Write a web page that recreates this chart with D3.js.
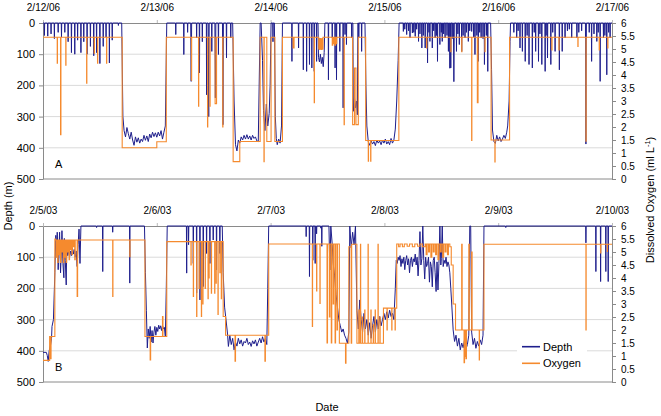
<!DOCTYPE html>
<html><head><meta charset="utf-8">
<script src="https://cdn.jsdelivr.net/npm/d3@7"></script>
<style>body{margin:0;background:#fff}svg{display:block}text{font-family:"Liberation Sans",Arial,sans-serif}</style>
</head><body><svg id="c" width="661" height="416"></svg>
<script>
const datesA = ["2/12/06","2/13/06","2/14/06","2/15/06","2/16/06","2/17/06"];
const datesB = ["2/5/03","2/6/03","2/7/03","2/8/03","2/9/03","2/10/03"];
const hourTicks = [0,24,48,72,96,120];
const depthTicks = [0,100,200,300,400,500];
const oxygenTicks = [0,0.5,1,1.5,2,2.5,3,3.5,4,4.5,5,5.5,6];

// [hours since first date, depth m]
const depthA = [
[0,0],[0.25,0],[0.3,40],[0.35,0],[0.95,0],[1.0,42],[1.05,0],[1.65,0],[1.7,35],[1.75,0],[2.35,0],[2.4,50],[2.45,0],
[3.15,0],[3.2,30],[3.25,0],[3.85,0],[3.9,45],[3.95,0],[4.55,0],[4.6,30],[4.65,0],[5.25,0],[5.3,60],[5.35,0],
[5.95,0],[6.0,95],[6.05,0],[6.65,0],[6.7,100],[6.75,0],[7.25,0],[7.3,55],[7.35,0],[7.95,0],[8.0,95],[8.05,0],
[8.55,0],[8.6,60],[8.65,0],[9.25,0],[9.3,100],[9.35,0],[9.95,0],[10.0,75],[10.05,0],[10.65,0],[10.7,105],[10.75,0],
[11.25,0],[11.3,95],[11.35,0],[11.95,0],[12.0,130],[12.05,0],[12.65,0],[12.7,75],[12.75,0],[13.25,0],[13.3,45],[13.35,0],
[13.95,0],[14.0,128],[14.05,0],[14.55,0],[14.6,55],[14.65,0],[15.85,0],[15.9,8],[15.95,0],
[16.6,0],[16.85,300],[17.1,345],[17.4,365],[17.7,335],[18.0,355],[18.3,372],[18.6,350],[18.9,375],[19.2,392],[19.5,365],[19.8,382],[20.1,368],[20.4,385],[20.7,372],[21.0,380],[21.3,360],[21.6,376],[21.9,362],[22.2,380],[22.5,356],[22.8,368],[23.1,350],[23.4,364],[23.7,352],[24.0,366],[24.3,350],[24.6,362],[24.9,345],[25.2,372],[25.5,350],[25.8,330],[26.1,0],
[27.95,0],[28.0,37],[28.05,0],[29.65,0],[29.7,101],[29.75,0],[30.45,0],[30.5,30],[30.55,0],[31.15,0],[31.25,187],[31.35,0],
[32.35,0],[32.4,48],[32.45,0],[32.95,0],[33.0,160],[33.05,0],[33.55,0],[33.6,60],[33.65,0],[34.45,0],[34.5,230],[34.55,0],
[34.85,0],[34.95,300],[35.05,0],[35.55,0],[35.6,91],[35.65,0],[36.25,0],[36.35,240],[36.45,0],[36.95,0],[37.0,101],[37.05,0],
[37.85,0],[37.95,326],[38.05,0],[38.65,0],[38.7,112],[38.75,0],[39.55,0],[39.6,48],[39.65,0],
[40.0,0],[40.3,250],[40.6,390],[40.9,410],[41.2,375],[41.5,385],[41.8,365],[42.1,375],[42.4,360],[42.7,372],[43.0,358],[43.3,372],[43.6,362],[43.9,375],[44.2,360],[44.5,370],[44.8,365],[45.1,378],[45.4,380],[45.8,0],
[46.0,0],[46.3,120],[46.5,280],[46.8,345],[47.1,260],[47.4,330],[47.7,290],[47.9,200],[48.1,0],[48.45,0],[48.5,60],[48.55,0],
[48.8,0],[49.0,300],[49.2,370],[49.4,390],[49.7,372],[50.0,385],[50.3,330],[50.5,0],
[52.45,0],[52.5,123],[52.55,0],[53.85,0],[53.9,80],[53.95,0],[54.85,0],[54.9,150],[54.95,0],[55.55,0],[55.6,155],[55.65,0],
[56.15,0],[56.2,133],[56.25,0],[56.65,0],[56.7,144],[56.75,0],[57.15,0],[57.2,155],[57.25,0],[57.65,0],[57.7,123],[57.75,0],
[58.0,0],[58.1,110],[58.3,125],[58.5,100],[58.7,130],[58.9,110],[59.1,140],[59.3,95],[59.45,0],
[60.15,0],[60.2,182],[60.25,0],[60.95,0],[61.0,48],[61.05,0],[61.55,0],[61.6,144],[61.65,0],[61.85,0],[61.9,182],[61.95,0],
[62.55,0],[62.6,91],[62.65,0],[63.25,0],[63.3,272],[63.35,0],[63.65,0],[63.7,37],[63.75,0],[63.95,0],[64.0,69],[64.05,0],
[65.05,0],[65.1,48],[65.15,0],[65.35,0],[65.45,283],[65.7,240],[65.9,272],[66.1,250],[66.3,294],[66.4,0],
[66.55,0],[66.6,48],[66.65,0],[67.15,0],[67.2,91],[67.25,0],
[67.9,0],[68.1,200],[68.3,330],[68.6,380],[68.9,392],[69.2,378],[69.5,388],[69.8,380],[70.1,393],[70.4,375],[70.7,385],[71.0,378],[71.3,390],[71.6,375],[71.9,385],[72.2,372],[72.5,388],[72.8,380],[73.1,390],[73.4,370],[73.7,385],[74.0,375],[74.3,340],[74.6,250],[74.9,120],[75.1,0],
[75.95,0],[76.0,27],[76.05,0],[76.25,0],[76.3,20],[76.35,0],[76.65,0],[76.7,37],[76.75,0],[77.05,0],[77.1,25],[77.15,0],
[77.35,0],[77.4,48],[77.45,0],[77.85,0],[77.9,32],[77.95,0],[78.15,0],[78.2,30],[78.25,0],[78.45,0],[78.5,43],[78.55,0],
[78.75,0],[78.8,20],[78.85,0],[79.15,0],[79.2,59],[79.25,0],[79.45,0],[79.5,35],[79.55,0],[79.85,0],[79.9,80],[79.95,0],
[80.15,0],[80.2,40],[80.25,0],[80.55,0],[80.6,80],[80.65,0],[81.05,0],[81.1,128],[81.15,0],[81.35,0],[81.4,30],[81.45,0],
[81.55,0],[81.6,59],[81.65,0],[82.05,0],[82.1,80],[82.15,0],[82.35,0],[82.4,25],[82.45,0],[82.65,0],[82.7,48],[82.75,0],
[82.95,0],[83.0,40],[83.05,0],[83.15,0],[83.2,123],[83.25,0],[83.65,0],[83.7,69],[83.75,0],[83.95,0],[84.0,30],[84.05,0],
[84.15,0],[84.2,59],[84.25,0],[84.45,0],[84.5,35],[84.55,0],[84.75,0],[84.8,48],[84.85,0],[85.15,0],[85.2,40],[85.25,0],
[85.45,0],[85.5,91],[85.55,0],[85.75,0],[85.8,145],[85.85,0],[85.95,0],[86.0,144],[86.05,0],[86.25,0],[86.3,50],[86.35,0],
[86.55,0],[86.65,188],[86.75,0],[87.15,0],[87.2,91],[87.25,0],[87.45,0],[87.5,35],[87.55,0],[87.75,0],[87.8,69],[87.85,0],
[88.25,0],[88.3,91],[88.35,0],[88.55,0],[88.6,40],[88.65,0],[88.95,0],[89.0,48],[89.05,0],[89.25,0],[89.3,30],[89.35,0],
[89.65,0],[89.7,59],[89.75,0],[89.95,0],[90.0,25],[90.05,0],[90.35,0],[90.4,27],[90.45,0],[90.75,0],[90.8,45],[90.85,0],
[91.05,0],[91.1,101],[91.15,0],[91.45,0],[91.5,40],[91.55,0],[91.75,0],[91.8,123],[91.85,0],[92.05,0],[92.1,30],[92.15,0],
[92.35,0],[92.4,48],[92.45,0],[92.75,0],[92.8,50],[92.85,0],[93.05,0],[93.1,133],[93.15,0],[93.45,0],[93.5,40],[93.55,0],
[93.75,0],[93.8,155],[93.85,0],
[94.4,0],[94.6,150],[94.8,343],[95.1,380],[95.4,386],[95.7,360],[96.0,378],[96.3,365],[96.6,380],[96.9,372],[97.2,360],[97.5,370],[97.8,350],[98.0,330],[98.3,250],[98.5,60],[98.6,0],
[99.25,0],[99.3,30],[99.35,0],[99.85,0],[99.9,48],[99.95,0],[100.15,0],[100.2,25],[100.25,0],[100.55,0],[100.6,80],[100.65,0],
[101.05,0],[101.1,91],[101.15,0],[101.65,0],[101.7,123],[101.75,0],[102.05,0],[102.1,40],[102.15,0],[102.45,0],[102.5,133],[102.55,0],
[103.15,0],[103.2,144],[103.25,0],[103.55,0],[103.6,30],[103.65,0],[103.85,0],[103.9,91],[103.95,0],[104.45,0],[104.5,123],[104.55,0],
[104.75,0],[104.8,35],[104.85,0],[105.15,0],[105.2,133],[105.25,0],[105.85,0],[105.9,155],[105.95,0],[106.05,0],[106.1,40],[106.15,0],
[106.35,0],[106.4,112],[106.45,0],[107.05,0],[107.1,133],[107.15,0],[107.45,0],[107.5,30],[107.55,0],[107.95,0],[108.0,91],[108.05,0],
[108.85,0],[108.9,150],[108.95,0],[109.45,0],[109.5,91],[109.55,0],[110.05,0],[110.1,48],[110.15,0],[110.55,0],[110.6,25],[110.65,0],
[110.95,0],[111.0,20],[111.05,0],[111.45,0],[111.5,48],[111.55,0],[112.55,0],[112.6,48],[112.65,0],[112.95,0],[113.0,30],[113.05,0],
[113.55,0],[113.6,25],[113.65,0],[114.4,0],[114.5,388],[114.6,0],[115.15,0],[115.2,30],[115.25,0],[115.65,0],[115.7,123],[115.75,0],
[116.15,0],[116.2,35],[116.25,0],[116.75,0],[116.8,59],[116.85,0],[117.05,0],[117.1,30],[117.15,0],[117.45,0],[117.5,187],[117.55,0],
[118.15,0],[118.2,48],[118.25,0],[118.45,0],[118.5,40],[118.55,0],[118.85,0],[118.9,166],[118.95,0],[119.25,0],[119.3,30],[119.35,0],
[119.55,0],[119.6,48],[119.65,0],[120,0]
];

// [hours, dissolved oxygen ml/L] (logged as steps)
const oxygenA = [
[0,5.45],[3.0,4.45],[3.05,5.45],[3.7,1.7],[3.78,5.45],[4.8,4.38],[4.85,5.45],[9.2,3.68],[9.25,5.45],[10.8,4.84],[10.85,5.45],[11.5,4.45],[11.55,5.45],[13.4,4.45],[13.45,5.45],
[16.7,1.2],[24.0,1.43],[26.0,5.45],
[31.3,3.8],[31.35,5.45],[32.8,2.8],[32.85,5.45],[34.7,2.0],[34.75,5.45],[35.2,2.8],[35.25,5.45],[36.3,2.9],[36.6,5.45],[37.9,2.0],[37.95,5.45],
[40.1,0.67],[41.5,1.44],[45.8,5.45],
[46.6,0.67],[46.65,5.45],[47.2,1.44],[48.1,5.45],[48.9,1.44],[50.5,5.45],
[52.75,5.04],[52.95,5.45],[57.2,2.93],[57.25,5.45],
[58.15,5.0],[58.25,5.4],[58.35,4.98],[58.45,5.4],[58.55,5.0],[58.65,5.38],[58.75,4.98],[58.85,5.4],[58.95,5.0],[59.05,5.45],
[61.0,5.15],[61.1,5.45],[61.25,5.2],[61.4,5.45],[61.55,5.15],[61.7,5.45],[61.85,5.2],[61.95,5.45],
[63.5,2.09],[63.55,5.45],[65.3,2.09],[65.7,4.27],[66.0,2.09],[66.5,5.45],
[68.05,1.48],[68.6,0.68],[68.65,1.48],[69.1,0.68],[69.15,1.48],[75.05,5.45],
[80.9,5.04],[80.95,5.45],[86.0,4.9],[86.05,5.45],[88.3,4.9],[88.35,5.45],[90.4,1.48],[90.45,5.45],[91.6,2.93],[91.75,5.45],[93.2,4.9],[93.25,5.45],
[94.5,1.5],[95.3,0.66],[95.35,1.5],[98.4,5.45],
[107.3,4.96],[107.35,5.45],[108.8,4.96],[108.85,5.45],[112.8,5.1],[112.85,5.45],[114.5,1.45],[114.55,5.45],[117.3,4.96],[117.35,5.45],[119.1,5.04],[119.15,5.45],[120,5.45]
];

const depthB = [
[0,405],[0.7,405],[0.9,415],[1.1,434],[1.3,400],[1.6,381],[1.8,360],[1.9,322],[2.2,300],[2.5,150],[2.7,30],
[2.9,100],[3.0,20],[3.2,140],[3.4,60],[3.5,20],[3.7,150],[3.9,70],[4.0,15],[4.2,120],[4.4,166],[4.5,40],[4.7,110],[4.9,189],[5.0,60],[5.2,95],[5.4,75],[5.6,100],[5.8,80],[6.0,95],[6.2,70],[6.4,90],[6.6,75],[6.8,100],[7.0,80],[7.2,130],[7.4,60],[7.6,10],[7.8,120],[8.0,0],
[11.25,0],[11.3,5],[11.35,0],[12.55,0],[12.6,146],[12.65,0],[14.65,0],[14.7,20],[14.75,0],[18.25,0],[18.3,183],[18.35,0],
[21.4,0],[21.6,150],[21.8,270],[22.0,391],[22.2,330],[22.4,360],[22.6,322],[22.8,372],[23.0,335],[23.2,375],[23.4,340],[23.6,322],[23.8,350],[24.0,325],[24.2,338],[24.4,318],[24.6,330],[24.8,320],[25.0,335],[25.2,318],[25.4,330],[25.6,325],[25.8,354],[26.0,200],[26.2,0],
[30.25,0],[30.3,151],[30.35,0],[30.65,0],[30.7,60],[30.75,0],[31.65,0],[31.7,120],[31.75,0],[32.35,0],[32.4,215],[32.45,0],
[33.05,0],[33.1,237],[33.15,0],[33.75,0],[33.8,194],[33.85,0],[34.45,0],[34.5,88],[34.55,0],[35.15,0],[35.2,120],[35.25,0],
[35.85,0],[35.9,45],[35.95,0],[36.55,0],[36.6,141],[36.65,0],[37.25,0],[37.3,88],[37.35,0],
[37.8,0],[38.0,150],[38.3,260],[38.6,301],[38.9,343],[39.1,386],[39.4,350],[39.7,380],[40.0,360],[40.3,397],[40.6,372],[40.9,385],[41.2,360],[41.5,378],[41.8,365],[42.1,385],[42.4,370],[42.7,375],[43.0,360],[43.3,380],[43.6,372],[43.9,386],[44.2,368],[44.5,378],[44.8,365],[45.1,385],[45.4,372],[45.7,360],[46.0,375],[46.3,355],[46.6,372],[46.9,360],[47.2,380],[47.4,200],[47.6,0],
[55.45,0],[55.5,34],[55.55,0],[56.15,0],[56.2,162],[56.25,0],[56.85,0],[56.9,110],[56.95,0],[57.35,0],[57.4,120],[57.45,0],
[57.65,0],[57.7,25],[57.75,0],[58.55,0],[58.6,7],[58.65,0],[58.75,0],[58.8,65],[58.85,0],
[60.3,0],[60.5,141],[60.7,0],[61.0,60],[61.2,120],[61.5,160],[61.8,220],[62.1,260],[62.4,301],[62.7,320],[63.0,340],[63.3,330],[63.6,350],[63.9,360],[64.2,376],[64.5,340],[64.7,0],[65.0,70],[65.3,20],[65.6,60],[65.9,0],
[66.2,270],[66.5,330],[66.8,237],[67.1,300],[67.4,340],[67.7,280],[68.0,330],[68.3,300],[68.6,350],[68.9,310],[69.2,360],[69.5,320],[69.8,290],[70.1,340],[70.4,300],[70.7,330],[71.0,290],[71.3,320],[71.6,300],[71.9,280],[72.2,300],[72.5,275],[72.8,295],[73.1,270],[73.4,290],[73.7,280],[74.0,300],[74.3,200],[74.5,110],
[74.7,120],[74.9,100],[75.1,110],[75.3,95],[75.5,130],[75.7,105],[75.9,120],[76.1,100],[76.3,140],[76.5,110],[76.7,95],[76.9,125],[77.1,105],[77.3,150],[77.5,110],[77.7,100],[77.9,130],[78.1,105],[78.3,115],[78.5,90],[78.7,125],[78.9,100],[79.1,160],[79.3,110],[79.5,18],[79.7,125],[79.9,105],[80.1,0],[80.3,110],[80.5,170],[80.7,100],[80.9,130],[81.1,120],[81.3,100],[81.5,180],[81.7,115],[81.9,130],[82.1,195],[82.3,110],[82.5,100],[82.7,150],[82.9,210],[83.1,115],[83.3,205],[83.5,120],[83.7,0],[83.9,125],[84.0,105],[84.2,0],[84.4,130],[84.6,110],[84.8,120],[85.0,100],[85.2,130],[85.4,115],[85.6,125],[85.8,150],
[86.0,200],[86.2,250],[86.5,333],[86.8,370],[87.1,350],[87.4,385],[87.7,360],[88.0,397],[88.3,375],[88.6,390],[88.9,365],[89.2,395],[89.5,380],[89.8,350],[90.0,0],[90.2,0],[90.4,340],[90.7,380],[91.0,360],[91.3,392],[91.6,370],[91.9,385],[92.2,365],[92.5,380],[92.8,350],[93.0,0],
[97.55,0],[97.6,5],[97.65,0],[114.45,0],[114.5,54],[114.55,0],[116.55,0],[116.6,146],[116.65,0],[117.55,0],[117.6,178],[117.65,0],
[118.65,0],[118.7,146],[118.75,0],[119.15,0],[119.2,178],[119.25,0],[120,0]
];

const oxygenB = [
[0,0.83],[1.4,1.75],[1.6,0.9],[1.7,1.75],[2.5,5.5],
[2.6,5.46],[2.8,4.8],[2.9,5.46],[3.1,4.6],[3.2,5.46],[3.4,4.9],[3.5,5.46],[3.7,4.6],[3.8,5.46],[4.0,5.0],[4.1,5.46],[4.3,4.6],[4.4,5.46],[4.6,4.8],[4.7,5.46],[4.9,4.6],[5.0,5.46],[5.2,5.0],[5.3,5.46],[5.5,4.7],[5.6,5.46],[5.8,5.1],[5.9,5.46],[6.1,4.9],[6.2,5.46],[6.4,5.2],[6.5,5.46],[6.7,4.7],[6.8,5.46],
[7.2,3.29],[7.3,5.46],[14.7,3.29],[14.75,5.46],[18.3,4.82],[18.35,5.46],
[21.5,1.75],[22.6,0.85],[22.7,1.75],[25.2,2.52],[25.3,1.75],[26.1,5.4],
[31.2,4.5],[31.25,5.4],[31.7,3.29],[31.75,5.4],[32.4,2.52],[32.45,5.4],[32.9,3.6],[32.95,5.4],[33.4,2.52],[33.45,5.4],[33.7,3.0],[33.75,5.4],[34.2,3.6],[34.25,5.4],[34.8,3.2],[34.85,5.4],[35.0,4.0],[35.05,5.4],[35.5,3.42],[35.55,5.4],[36.2,3.42],[36.25,5.4],[36.5,3.8],[36.55,5.4],[36.9,2.6],[36.95,5.4],[37.3,4.2],[37.35,5.4],[37.6,3.2],[37.65,5.4],
[38.0,2.52],[38.5,1.8],[40.5,0.8],[40.6,1.8],[46.8,0.8],[46.9,1.8],[47.6,5.31],
[56.8,2.14],[56.85,5.31],[57.7,3.5],[57.75,5.31],[58.4,3.02],[58.45,5.31],
[59.9,1.5],[60.0,5.31],[60.4,2.5],[60.5,5.31],[60.8,1.5],[60.9,5.31],[61.2,3.0],[61.3,5.31],[61.6,1.5],[61.7,5.31],[62.0,2.0],[62.1,5.31],[62.5,1.49],[63.8,0.72],[63.9,1.49],[64.5,5.2],[65.0,1.49],[65.1,5.3],[66.2,1.49],
[66.6,2.77],[66.7,1.49],[66.95,5.3],[67.0,1.49],[67.35,2.5],[67.4,1.49],[67.85,2.77],[67.9,1.49],[68.55,5.3],[68.6,1.49],[69.15,2.77],[69.2,1.49],[69.65,2.2],[69.7,1.49],[70.05,2.77],[70.1,1.49],[70.65,5.3],[70.7,1.49],[71.05,2.5],[71.1,1.49],
[71.8,2.84],[72.55,2.0],[72.6,2.84],[73.55,2.0],[73.6,2.84],[74.25,2.0],[74.3,2.84],[74.6,5.31],
[75.0,5.2],[75.3,5.31],[75.8,5.2],[76.2,5.31],[76.8,5.22],[77.3,5.31],[77.9,5.2],[78.4,5.31],[79.0,5.22],[79.5,5.31],[80.0,5.2],[80.6,5.31],[80.8,4.9],[81.0,5.31],[81.3,5.0],[81.5,5.31],[81.8,4.8],[82.0,5.31],[82.3,5.0],[82.5,5.31],[82.8,4.9],[83.0,5.31],[83.3,4.7],[83.5,5.31],[83.8,5.0],[84.0,5.31],[84.3,4.8],[84.5,5.31],[84.8,5.0],[85.0,5.31],[85.3,4.9],[85.5,5.31],[85.8,5.2],
[86.1,4.5],[86.5,3.0],[87.0,2.0],[88.3,5.3],[88.4,2.0],[88.8,0.74],[88.9,2.0],[89.0,0.98],[89.1,2.0],[89.2,0.9],[89.3,2.0],[89.8,5.3],[89.9,2.0],[90.4,5.0],[90.5,2.0],[92.0,0.85],[92.05,2.0],[93.0,5.3],
[114.5,2.0],[114.55,5.3],[117.6,4.96],[117.65,5.3],[119.0,5.02],[119.05,5.3],[120,5.3]
];

const svg = d3.select("#c");
const x = d3.scaleLinear().domain([0,120]).range([43,612]);
const depthColor = "#1e1e8c", oxyColor = "#f58a2e";

const panels = [
  {top:23, bottom:179, depth:depthA, oxy:oxygenA, dates:datesA, label:"A"},
  {top:226, bottom:382, depth:depthB, oxy:oxygenB, dates:datesB, label:"B"}
];

panels.forEach((p, i) => {
  const yD = d3.scaleLinear().domain([0,500]).range([p.top, p.bottom]);
  const yO = d3.scaleLinear().domain([0,6]).range([p.bottom, p.top]);
  const g = svg.append("g");

  g.selectAll("line.grid").data(depthTicks.slice(1,-1)).join("line")
    .attr("x1", x(0)).attr("x2", x(120))
    .attr("y1", d => yD(d)).attr("y2", d => yD(d))
    .attr("stroke", "#dadada").attr("stroke-width", 1);

  if (i === 1) {
    g.append("rect").attr("x", 517).attr("y", 336).attr("width", 70).attr("height", 36).attr("fill", "#fff");
  }

  // bottom frame line
  g.append("line").attr("x1", x(0)).attr("x2", x(120)).attr("y1", yD(500)).attr("y2", yD(500))
    .attr("stroke", "#8a8a8a");

  // top date axis (also the top border)
  const ta = g.append("g").attr("transform", `translate(0,${p.top})`)
    .call(d3.axisTop(x).tickValues(hourTicks).tickFormat((d, j) => p.dates[j]).tickSize(3).tickSizeOuter(0).tickPadding(9));
  ta.select(".domain").attr("stroke", "#8a8a8a");
  ta.selectAll(".tick line").attr("stroke", "#bbbbbb");
  ta.selectAll("text").attr("font-size", 10).attr("fill", "#000").style("font-family", '"Liberation Sans",Arial,sans-serif');

  // left depth axis
  const la = g.append("g").attr("transform", `translate(${x(0)},0)`)
    .call(d3.axisLeft(yD).tickValues(depthTicks).tickSize(4).tickSizeOuter(0).tickPadding(4));
  la.select(".domain").attr("stroke", "#8a8a8a");
  la.selectAll(".tick line").attr("stroke", "#8a8a8a");
  la.selectAll("text").attr("font-size", 11).attr("fill", "#000").style("font-family", '"Liberation Sans",Arial,sans-serif');

  // right oxygen axis
  const ra = g.append("g").attr("transform", `translate(${x(120)},0)`)
    .call(d3.axisRight(yO).tickValues(oxygenTicks).tickFormat(d3.format("")).tickSize(4).tickSizeOuter(0).tickPadding(5));
  ra.select(".domain").attr("stroke", "#8a8a8a");
  ra.selectAll(".tick line").attr("stroke", "#8a8a8a");
  ra.selectAll("text").attr("font-size", 10).attr("fill", "#000").style("font-family", '"Liberation Sans",Arial,sans-serif');

  // data
  g.append("path").datum(p.depth)
    .attr("d", d3.line().x(d => x(d[0])).y(d => yD(d[1])))
    .attr("fill", "none").attr("stroke", depthColor).attr("stroke-width", 1).attr("stroke-linejoin", "round");
  g.append("path").datum(p.oxy)
    .attr("d", d3.line().x(d => x(d[0])).y(d => yO(d[1])).curve(d3.curveStepAfter))
    .attr("fill", "none").attr("stroke", oxyColor).attr("stroke-width", 1.1);

  g.append("text").attr("x", 55).attr("y", p.bottom - 11.5).attr("font-size", 11).attr("fill", "#000").text(p.label);
});

// legend
const leg = svg.append("g");
[["Depth", depthColor, 346.7], ["Oxygen", oxyColor, 363.3]].forEach(([name, col, yy]) => {
  leg.append("line").attr("x1", 522).attr("x2", 540).attr("y1", yy).attr("y2", yy).attr("stroke", col).attr("stroke-width", 1.6);
  leg.append("text").attr("x", 543).attr("y", yy).attr("dy", "0.35em").attr("font-size", 11).attr("fill", "#000").text(name);
});

// axis titles
svg.append("text").attr("transform", "translate(12,206) rotate(-90)").attr("text-anchor", "middle")
  .attr("font-size", 11).attr("fill", "#000").text("Depth (m)");
const rt = svg.append("text").attr("transform", "translate(654,200) rotate(-90)").attr("text-anchor", "middle")
  .attr("font-size", 11).attr("fill", "#000");
rt.append("tspan").text("Dissolved Oxygen (ml L");
rt.append("tspan").attr("font-size", 7.5).attr("dy", -4).text("-1");
rt.append("tspan").attr("dy", 4).text(")");
svg.append("text").attr("x", 327).attr("y", 411).attr("text-anchor", "middle")
  .attr("font-size", 11).attr("fill", "#000").text("Date");
</script>
</body></html>
